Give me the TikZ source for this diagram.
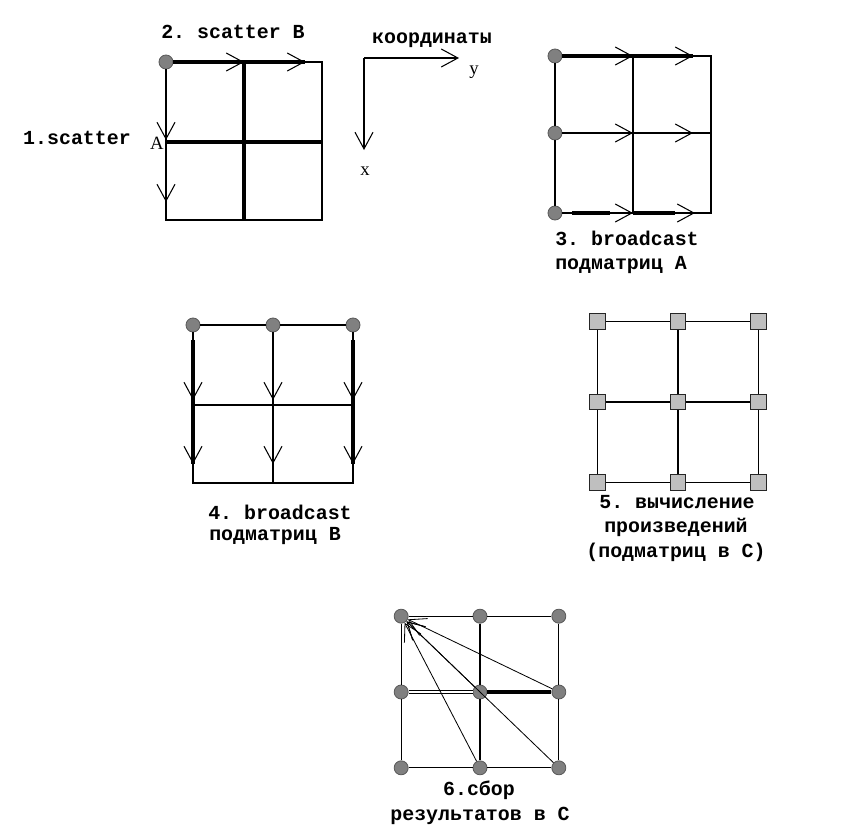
\documentclass[tikz,border=0pt]{standalone}
\usepackage{fontspec}
\setmonofont{Liberation Mono}
\setmainfont{Liberation Serif}
\usetikzlibrary{arrows.meta,matrix,calc,positioning}

\tikzset{
  lbl/.style={font=\ttfamily\bfseries\fontsize{17}{19}\selectfont, inner sep=0pt},
  axlbl/.style={font=\rmfamily\fontsize{16}{18}\selectfont, inner sep=0pt},
  dot/.style={circle, draw=black!65, fill=gray, minimum size=4.2mm, inner sep=0pt, line width=0.7pt},
  cell/.style={rectangle, draw=black!85, fill=gray!50, minimum size=4.6mm, inner sep=0pt, line width=0.9pt},
  gline/.style={line width=0.9pt},
  bold line/.style={line width=3.2pt},
  arr/.style={line width=0.9pt, -{Straight Barb[length=5mm,width=5.4mm]}},
  farr/.style={line width=0.7pt, -{Straight Barb[length=5mm,width=5.6mm]}},
}

\begin{document}
\begin{tikzpicture}[x=0.3mm,y=-0.3mm]
\useasboundingbox (0,0) rectangle (868,825);

% 1, 2: scatter A / scatter B
\node[dot] (s0) at (166,62) {};
\coordinate (g1-tm) at (244,62);
\coordinate (g1-t2) at (305,62);
\coordinate (g1-tr) at (322,62);
\coordinate (g1-ml) at (166,142);
\coordinate (g1-mr) at (322,142);
\coordinate (g1-bl) at (166,220);
\coordinate (g1-bm) at (244,220);
\coordinate (g1-br) at (322,220);
\coordinate (g1-l1) at (166,140);
\coordinate (g1-l2) at (166,202);

\draw[gline] (s0) -- (g1-tr) -- (g1-br) -- (g1-bl) -- (s0);
\draw[bold line] (s0) -- (g1-t2);
\draw[bold line] (g1-tm) -- (g1-bm);
\draw[bold line] (g1-ml) -- (g1-mr);
\draw[arr] (s0) -- (g1-tm);
\draw[arr] (g1-tm) -- (g1-t2);
\draw[arr] (s0) -- (g1-l1);
\draw[arr] (g1-l1) -- (g1-l2);

\node[lbl] (t2) at (233,32) {2. scatter B};
\node[lbl] (t1) at (77,138) {1.scatter};
\node[axlbl] (tA) at (157,143) {A};

% axes
\coordinate (o) at (364,58);
\coordinate (oy) at (459,58);
\coordinate (ox) at (364,150);
\draw[arr] (o) -- (oy);
\draw[arr] (o) -- (ox);
\node[lbl] (tc) at (432,40) {координаты};
\node[axlbl] (ty) at (474,72) {y};
\node[axlbl] (tx) at (365,171) {x};

% 3: broadcast A
\node[dot] (a1) at (555,56) {};
\node[dot] (a2) at (555,133) {};
\node[dot] (a3) at (555,213) {};
\coordinate (h3-tm) at (633,56);
\coordinate (h3-t2) at (693,56);
\coordinate (h3-tr) at (711,56);
\coordinate (h3-mm) at (633,133);
\coordinate (h3-m2) at (693,133);
\coordinate (h3-mr) at (711,133);
\coordinate (h3-b0) at (572,213);
\coordinate (h3-b1) at (610,213);
\coordinate (h3-bm) at (633,213);
\coordinate (h3-b3) at (675,213);
\coordinate (h3-b2) at (695,213);
\coordinate (h3-br) at (711,213);

\draw[gline] (a1) -- (a2) -- (a3);
\draw[gline] (a1) -- (h3-tr) -- (h3-br) -- (a3);
\draw[gline] (h3-tm) -- (h3-bm);
\draw[gline] (a2) -- (h3-mr);
\draw[bold line] (a1) -- (h3-t2);
\draw[bold line] (h3-b0) -- (h3-b1);
\draw[bold line] (h3-bm) -- (h3-b3);
\draw[arr] (a1) -- (h3-tm);
\draw[arr] (h3-tm) -- (h3-t2);
\draw[arr] (a2) -- (h3-mm);
\draw[arr] (h3-mm) -- (h3-m2);
\draw[arr] (a3) -- (h3-bm);
\draw[arr] (h3-bm) -- (h3-b2);

\node[lbl] (t3a) at (627,238) {3. broadcast};
\node[lbl] (t3b) at (621,265) {подматриц A};

% 4: broadcast B
\node[dot] (b1) at (193,325) {};
\node[dot] (b2) at (273,325) {};
\node[dot] (b3) at (353,325) {};
\coordinate (v4-l0) at (193,340);
\coordinate (v4-l1) at (193,400);
\coordinate (v4-l2) at (193,464);
\coordinate (v4-m1) at (273,400);
\coordinate (v4-m2) at (273,464);
\coordinate (v4-r0) at (353,340);
\coordinate (v4-r1) at (353,400);
\coordinate (v4-r2) at (353,464);
\coordinate (v4-ml) at (193,405);
\coordinate (v4-mr) at (353,405);
\coordinate (v4-bl) at (193,483);
\coordinate (v4-bm) at (273,483);
\coordinate (v4-br) at (353,483);

\draw[gline] (b1) -- (b2) -- (b3);
\draw[gline] (b1) -- (v4-bl) -- (v4-br) -- (b3);
\draw[gline] (b2) -- (v4-bm);
\draw[gline] (v4-ml) -- (v4-mr);
\draw[bold line] (v4-l0) -- (v4-l2);
\draw[bold line] (v4-r0) -- (v4-r2);
\draw[arr] (b1) -- (v4-l1);
\draw[arr] (v4-l1) -- (v4-l2);
\draw[arr] (b2) -- (v4-m1);
\draw[arr] (v4-m1) -- (v4-m2);
\draw[arr] (b3) -- (v4-r1);
\draw[arr] (v4-r1) -- (v4-r2);

\node[lbl] (t4a) at (280,512) {4. broadcast};
\node[lbl] (t4b) at (275,536) {подматриц B};

% 5: products
\matrix (m5) [matrix of nodes, nodes in empty cells,
              nodes={cell},
              column sep=19.2mm, row sep=19.2mm] at (678,402) {
 & & \\
 & & \\
 & & \\
};
\draw[gline] (m5-1-1) -- (m5-1-2) -- (m5-1-3);
\draw[gline] (m5-2-1) -- (m5-2-2) -- (m5-2-3);
\draw[gline] (m5-3-1) -- (m5-3-2) -- (m5-3-3);
\draw[gline] (m5-1-1) -- (m5-2-1) -- (m5-3-1);
\draw[gline] (m5-1-2) -- (m5-2-2) -- (m5-3-2);
\draw[gline] (m5-1-3) -- (m5-2-3) -- (m5-3-3);

\node[lbl] (t5a) at (677,502) {5. вычисление};
\node[lbl] (t5b) at (676,527) {произведений};
\node[lbl] (t5c) at (676,552) {(подматриц в C)};

% 6: gather
\matrix (m6) [matrix of nodes, nodes in empty cells,
              nodes={dot},
              column sep=19.2mm, row sep=18.3mm] at (480,692) {
 & & \\
 & & \\
 & & \\
};
\draw[gline] (m6-1-1) -- (m6-1-2) -- (m6-1-3);
\draw[gline] (m6-3-1) -- (m6-3-2) -- (m6-3-3);
\draw[gline] (m6-1-1) -- (m6-2-1) -- (m6-3-1);
\draw[gline] (m6-1-2) -- (m6-2-2) -- (m6-3-2);
\draw[gline] (m6-1-3) -- (m6-2-3) -- (m6-3-3);
\draw[double, line width=0.7pt, double distance=1.2pt] (m6-2-1) -- (m6-2-2);
\draw[bold line] (m6-2-2) -- (m6-2-3);
\draw[farr] (m6-2-2) -- (m6-1-1);
\draw[farr] (m6-2-3) -- (m6-1-1);
\draw[farr] (m6-3-2) -- (m6-1-1);
\draw[farr] (m6-3-3) -- (m6-1-1);

\node[lbl] (t6a) at (479,790) {6.сбор};
\node[lbl] (t6b) at (480,816) {результатов в C};
\end{tikzpicture}
\end{document}
